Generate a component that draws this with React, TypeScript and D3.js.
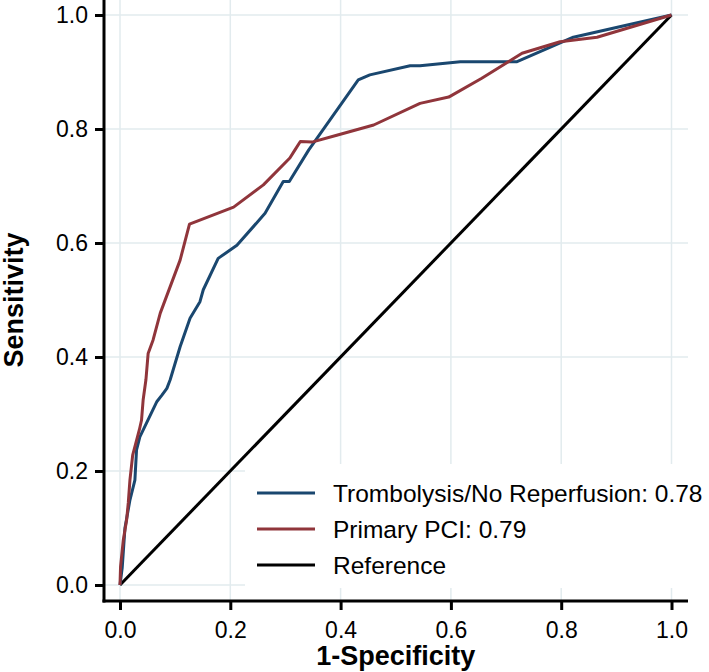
import React, { useEffect, useRef } from "react";
import * as d3 from "d3";

const tickValues = [0, 0.2, 0.4, 0.6, 0.8, 1.0];

const thrombFpr = [0, 0.004, 0.009, 0.018, 0.027, 0.03, 0.036, 0.048, 0.067, 0.076, 0.085, 0.091, 0.109, 0.127, 0.145, 0.151, 0.178, 0.212, 0.263, 0.296, 0.307, 0.342, 0.432, 0.453, 0.526, 0.544, 0.617, 0.72, 0.822, 1.0];
const thrombTpr = [0, 0.03, 0.1, 0.149, 0.184, 0.237, 0.26, 0.284, 0.322, 0.333, 0.345, 0.36, 0.418, 0.468, 0.497, 0.518, 0.573, 0.596, 0.652, 0.708, 0.708, 0.763, 0.886, 0.895, 0.911, 0.911, 0.918, 0.918, 0.961, 1.0];

const pciFpr = [0, 0.001, 0.006, 0.012, 0.015, 0.018, 0.023, 0.035, 0.039, 0.042, 0.047, 0.051, 0.06, 0.073, 0.109, 0.126, 0.206, 0.26, 0.308, 0.317, 0.327, 0.348, 0.393, 0.46, 0.544, 0.596, 0.656, 0.729, 0.798, 0.865, 1.0];
const pciTpr = [0, 0.032, 0.079, 0.114, 0.144, 0.184, 0.228, 0.272, 0.289, 0.325, 0.36, 0.406, 0.43, 0.477, 0.57, 0.633, 0.663, 0.702, 0.749, 0.763, 0.778, 0.777, 0.789, 0.807, 0.845, 0.856, 0.889, 0.933, 0.953, 0.961, 1.0];

const refFpr = [0, 1];
const refTpr = [0, 1];

const legendLabels = ["Trombolysis/No Reperfusion: 0.78", "Primary PCI: 0.79", "Reference"];
const seriesColors = ["#1a476f", "#90353b", "#000000"];

const FONT = "'Liberation Sans', Arial, Helvetica, sans-serif";

export default function App() {
  const xAxisRef = useRef<SVGGElement>(null);
  const yAxisRef = useRef<SVGGElement>(null);

  const W = 709;
  const H = 672;
  const x = d3.scaleLinear().domain([0, 1]).range([120, 671.5]);
  const y = d3.scaleLinear().domain([0, 1]).range([585, 15]);

  const axisX = 104;
  const axisY = 601;
  const plotRight = 688;
  const plotTop = 0;

  useEffect(() => {
    const fmt = d3.format(".1f");
    const gx = d3.select(xAxisRef.current);
    gx.selectAll("*").remove();
    gx.call(
      d3.axisBottom(x).tickValues(tickValues).tickFormat((d: any) => fmt(d)).tickSize(9).tickSizeOuter(0).tickPadding(12) as any
    );
    gx.select(".domain").remove();
    gx.selectAll(".tick line").attr("stroke", "#000").attr("stroke-width", 3);
    gx.selectAll(".tick text").attr("fill", "#000").style("font-size", "23px").style("font-family", FONT);

    const gy = d3.select(yAxisRef.current);
    gy.selectAll("*").remove();
    gy.call(
      d3.axisLeft(y).tickValues(tickValues).tickFormat((d: any) => fmt(d)).tickSize(9).tickSizeOuter(0).tickPadding(7) as any
    );
    gy.select(".domain").remove();
    gy.selectAll(".tick line").attr("stroke", "#000").attr("stroke-width", 3);
    gy.selectAll(".tick text").attr("fill", "#000").style("font-size", "23px").style("font-family", FONT);
  }, []);

  const line = d3
    .line<[number, number]>()
    .x((d) => x(d[0]))
    .y((d) => y(d[1]));

  const thromb = thrombFpr.map((v, i) => [v, thrombTpr[i]] as [number, number]);
  const pci = pciFpr.map((v, i) => [v, pciTpr[i]] as [number, number]);
  const ref = refFpr.map((v, i) => [v, refTpr[i]] as [number, number]);

  const legendX1 = 257;
  const legendX2 = 315;
  const legendTextX = 333;
  const legendRowY = [493, 529, 565];

  return (
    <svg
      width={W}
      height={H}
      style={{ position: "absolute", left: 0, top: 0, background: "#fff" }}
      fontFamily={FONT}
    >
      <rect x={0} y={0} width={W} height={H} fill="#fff" />
      {/* grid */}
      <g stroke="#e2ebee" strokeWidth={1.5}>
        {tickValues.map((t) => (
          <line key={"vx" + t} x1={x(t)} x2={x(t)} y1={plotTop} y2={axisY} />
        ))}
        {tickValues.map((t) => (
          <line key={"hy" + t} x1={axisX} x2={plotRight} y1={y(t)} y2={y(t)} />
        ))}
      </g>
      {/* legend background */}
      <rect x={245} y={464} width={W - 245} height={124} fill="#fff" />
      {/* curves */}
      <path d={line(ref) || ""} fill="none" stroke={seriesColors[2]} strokeWidth={3} />
      <path d={line(thromb) || ""} fill="none" stroke={seriesColors[0]} strokeWidth={3} strokeLinejoin="round" />
      <path d={line(pci) || ""} fill="none" stroke={seriesColors[1]} strokeWidth={3} strokeLinejoin="round" />
      {/* axes lines */}
      <line x1={axisX} x2={axisX} y1={0} y2={axisY + 1.5} stroke="#000" strokeWidth={3} />
      <line x1={axisX - 1.5} x2={plotRight} y1={axisY} y2={axisY} stroke="#000" strokeWidth={3} />
      <g ref={xAxisRef} transform={`translate(0,${axisY})`} />
      <g ref={yAxisRef} transform={`translate(${axisX},0)`} />
      {/* axis titles */}
      <text x={(x(0) + x(1)) / 2} y={665} textAnchor="middle" fontWeight="bold" fontSize={27} fill="#000">
        1-Specificity
      </text>
      <text
        transform={`translate(23,${(y(0) + y(1)) / 2}) rotate(-90)`}
        textAnchor="middle"
        fontWeight="bold"
        fontSize={27}
        fill="#000"
      >
        Sensitivity
      </text>
      {/* legend */}
      {legendLabels.map((lab, i) => (
        <g key={lab}>
          <line x1={legendX1} x2={legendX2} y1={legendRowY[i]} y2={legendRowY[i]} stroke={seriesColors[i]} strokeWidth={3} />
          <text x={legendTextX} y={legendRowY[i] + 9} fontSize={24.5} fill="#000">
            {lab}
          </text>
        </g>
      ))}
    </svg>
  );
}
